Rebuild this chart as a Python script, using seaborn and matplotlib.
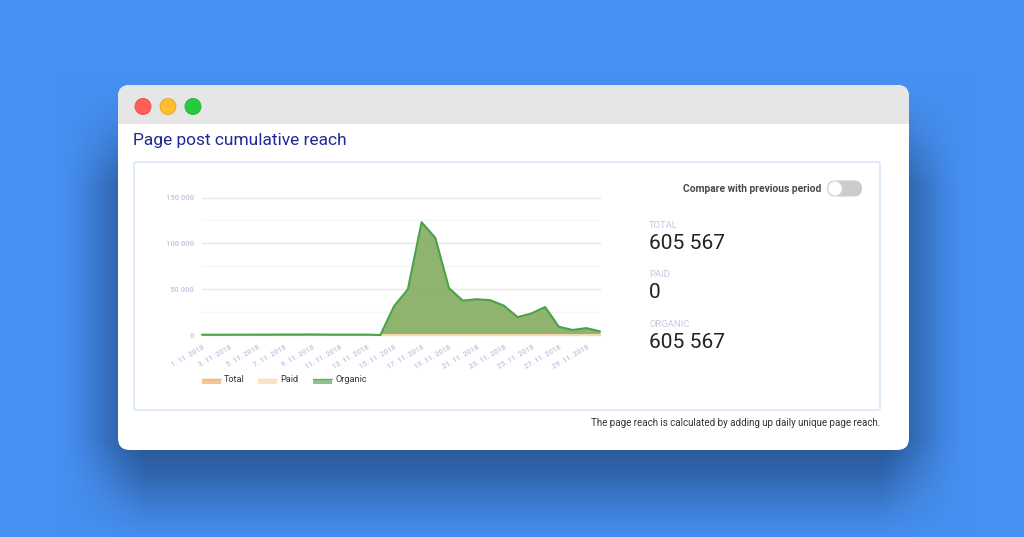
import numpy as np
import pandas as pd
import matplotlib
matplotlib.use('Agg')
import matplotlib.pyplot as plt
from matplotlib.patches import FancyBboxPatch, Rectangle, Circle
import seaborn as sns

days = list(range(1, 31))
organic = [300, 300, 300, 350, 400, 400, 500, 500, 600, 400, 400, 400, 400, 0,
           31600, 49800, 123000, 106000, 51000, 37500, 39000, 38000, 32000,
           19500, 23500, 30500, 9000, 5500, 7500, 4000]
paid = [0] * 30
y_ticks = [0, 50000, 100000, 150000]
y_minor = [25000, 75000, 125000]
y_labels = ['0', '50 000', '100 000', '150 000']
legend_names = ['Total', 'Paid', 'Organic']
legend_colors = ['#f2b277', '#fbdcb5', '#6aae68']
stat_names = ['TOTAL', 'PAID', 'ORGANIC']
stat_values = ['605 567', '0', '605 567']

W, H = 1024, 537
sns.set_theme(style='white')
plt.rcParams['font.family'] = ['Roboto', 'DejaVu Sans']

df = pd.DataFrame({'day': days, 'organic': organic, 'paid': paid})

fig = plt.figure(figsize=(W / 100, H / 100), dpi=100)
fig.patch.set_facecolor('#4690f1')

# Page background and window shadow
bg = fig.add_axes([0, 0, 1, 1])
bg.axis('off')

xx, yy = np.meshgrid(np.arange(W), np.arange(H))
def soft(v, a, b, s):
    return np.clip((v - a) / s + 0.5, 0, 1) * np.clip((b - v) / s + 0.5, 0, 1)
mask = soft(xx, 100, 925, 90) * soft(yy, 130, 495, 110)
mask = mask * mask * (3 - 2 * mask)
base = np.array([0x46, 0x90, 0xf1]) / 255
dark = np.array([0x2a, 0x5a, 0x9c]) / 255
shadow = base + (dark - base) * mask[..., None]
bg.imshow(shadow, extent=(0, W, H, 0), aspect='auto', zorder=0)
bg.set_xlim(0, W)
bg.set_ylim(H, 0)

# Window
bg.add_patch(FancyBboxPatch((130, 97), 767, 341, boxstyle='round,pad=12,rounding_size=12',
                            fc='white', ec='none', zorder=1))
bar = FancyBboxPatch((130, 97), 767, 341, boxstyle='round,pad=12,rounding_size=12',
                     fc='#e6e6e6', ec='none', zorder=2)
bg.add_patch(bar)
bar.set_clip_path(Rectangle((118, 85), 791, 39, transform=bg.transData))
for cx, fc, ec in [(143, '#ff5f57', '#e5493f'), (168, '#ffbd2e', '#e5a22a'), (193, '#28c840', '#22ad36')]:
    bg.add_patch(Circle((cx, 106.5), 8, fc=fc, ec=ec, lw=0.6, zorder=3))

bg.text(133, 140, 'Page post cumulative reach', color='#1e2a96', fontsize=12.5,
        va='center', ha='left', zorder=3)

# Card
bg.add_patch(FancyBboxPatch((134, 162), 746, 248, boxstyle='round,pad=0,rounding_size=2',
                            fc='white', ec='#dce9f8', lw=1.3, zorder=2))

# Toggle
bg.text(821, 188.5, 'Compare with previous period', color='#4a4a4a', fontsize=7.4,
        fontweight='bold', ha='right', va='center', zorder=3)
bg.add_patch(FancyBboxPatch((827, 180.5), 35, 16, boxstyle='round,pad=0,rounding_size=8',
                            fc='#cccccc', ec='none', zorder=3))
bg.add_patch(Circle((835, 188.5), 7, fc='white', ec='#e4e4e4', lw=0.5, zorder=4))

# Stats
for name, value, y in zip(stat_names, stat_values, [225, 274.5, 324.5]):
    bg.text(649, y, name, color='#c3c8e4', fontsize=6.8, ha='left', va='center', zorder=3)
    bg.text(649, y + 18.5, value, color='#222222', fontsize=15.1, ha='left', va='center', zorder=3)

bg.text(880, 423.5, 'The page reach is calculated by adding up daily unique page reach.',
        color='#333333', fontsize=7.0, ha='right', va='center', zorder=3)

# Chart: y=0 sits at 335 px, 150 000 at 197.5 px, days run from 202 to 600 px
left, right, bottom, top = 202, 600, 335, 197.5
ax = fig.add_axes([left / W, 1 - bottom / H, (right - left) / W, (bottom - top) / H])
ax.patch.set_alpha(0)
ax.set_zorder(5)
ax.fill_between(df['day'], df['organic'], color='#8cb26b', alpha=0.97, lw=0, zorder=2)
sns.lineplot(data=df, x='day', y='organic', color='#4aa148', lw=1.5, ax=ax, zorder=4, clip_on=False)
sns.lineplot(data=df[df['day'] >= 14], x='day', y='paid', color='#f6d9ae', lw=1.5, ax=ax, zorder=3, clip_on=False)
ax.set_xlim(1, 30)
ax.set_ylim(0, 150000)
ax.set_xlabel('')
ax.set_ylabel('')
sns.despine(ax=ax, left=True, bottom=True, top=True, right=True)

for v in y_ticks:
    ax.axhline(v, color='#e8e8ea', lw=1, zorder=1, clip_on=False)
for v in y_minor:
    ax.axhline(v, color='#f5f5f6', lw=1, zorder=1)

ax.set_yticks(y_ticks)
ax.set_yticklabels(y_labels, color='#c6cae2', fontsize=5.5, fontweight='bold')
tick_days = days[::2]
ax.set_xticks(tick_days)
ax.set_xticklabels([f'{d}. 11. 2018' for d in tick_days], rotation=30, ha='right',
                   rotation_mode='anchor', color='#c6cae2', fontsize=5.2, fontweight='bold')
ax.tick_params(axis='y', length=0, pad=6)
ax.tick_params(axis='x', length=0, pad=6)

# Legend
for name, col, x0, w in zip(legend_names, legend_colors, [202, 258, 313], [19, 19, 19]):
    bg.add_patch(Rectangle((x0, 378.5), w, 5, fc=col, ec='none', alpha=0.75, zorder=3))
    bg.plot([x0, x0 + w], [379, 379], color=col, lw=1, zorder=4)
    bg.text(x0 + w + 3, 380, name, color='#333333', fontsize=6.6, ha='left', va='center', zorder=3)

fig.savefig('out.png', dpi=100, facecolor=fig.get_facecolor())
